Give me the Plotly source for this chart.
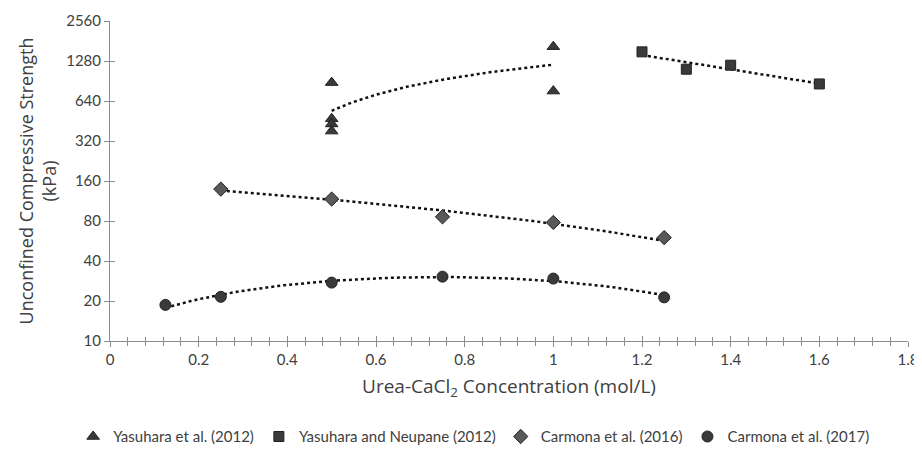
import numpy as np
import plotly.graph_objects as go

# data
yasuhara_x = [0.5, 0.5, 0.5, 0.5, 1.0, 1.0]
yasuhara_y = [880, 470, 430, 380, 1640, 760]
neupane_x = [1.2, 1.3, 1.4, 1.6]
neupane_y = [1500, 1110, 1190, 860]
carmona16_x = [0.25, 0.5, 0.75, 1.0, 1.25]
carmona16_y = [139, 117, 86, 78, 60]
carmona17_x = [0.125, 0.25, 0.5, 0.75, 1.0, 1.25]
carmona17_y = [18.7, 21.5, 27.5, 30.5, 29.5, 21.3]

y_ticks = [10, 20, 40, 80, 160, 320, 640, 1280, 2560]

TEXT = "#404040"
AXIS = "#8c8c8c"
FONT = "Lato"
TITLE_FONT = "Open Sans"


def trend(x, y, kind):
    # excel-style trendlines fitted to the series
    x = np.asarray(x, float)
    y = np.asarray(y, float)
    xs = np.linspace(x.min(), x.max(), 60)
    if kind == "log":
        b, a = np.polyfit(np.log(x), y, 1)
        return xs, a + b * np.log(xs)
    if kind == "exp":
        b, a = np.polyfit(x, np.log(y), 1)
        return xs, np.exp(a + b * xs)
    if kind == "poly2":
        return xs, np.polyval(np.polyfit(x, y, 2), xs)
    return xs, np.polyval(np.polyfit(x, y, 1), xs)


series = [
    ("Yasuhara et al. (2012)", yasuhara_x, yasuhara_y, "triangle-up", 11, "#3a3a3a", "log"),
    ("Yasuhara and Neupane (2012)", neupane_x, neupane_y, "square", 10, "#3a3a3a", "exp"),
    ("Carmona et al. (2016)", carmona16_x, carmona16_y, "diamond", 11, "#595959", "lin"),
    ("Carmona et al. (2017)", carmona17_x, carmona17_y, "circle", 11, "#3a3a3a", "poly2"),
]

fig = go.Figure()

for name, x, y, sym, size, col, kind in series:
    tx, ty = trend(x, y, kind)
    fig.add_trace(go.Scatter(
        x=tx, y=ty, mode="lines", showlegend=False, hoverinfo="skip",
        line=dict(color="#111111", width=2.5, dash="dot"),
    ))

for name, x, y, sym, size, col, kind in series:
    fig.add_trace(go.Scatter(
        x=x, y=y, mode="markers", name=name,
        marker=dict(symbol=sym, size=size, color=col,
                    line=dict(color="#222222", width=1)),
    ))

# empty traces so the overlay axes (inner half of the crossing ticks) get drawn
fig.add_trace(go.Scatter(x=[None], y=[None], xaxis="x2", yaxis="y", showlegend=False))
fig.add_trace(go.Scatter(x=[None], y=[None], xaxis="x", yaxis="y2", showlegend=False))

tick_font = dict(family=FONT, size=15, color=TEXT)

# page body keeps its 8px margin, so the figure is sized to what stays visible
fig.update_layout(
    width=914,
    height=442,
    margin=dict(l=102, r=14, t=13, b=109, autoexpand=False),
    paper_bgcolor="white",
    plot_bgcolor="white",
    font=dict(family=FONT, color=TEXT),
    xaxis=dict(
        range=[0, 1.8], dtick=0.2, tick0=0, automargin=False,
        showgrid=False, zeroline=False,
        showline=True, linecolor=AXIS, linewidth=1,
        ticks="outside", ticklen=5, tickcolor=AXIS, tickwidth=1,
        minor=dict(dtick=0.04, ticks="outside", ticklen=4, tickcolor=AXIS),
        tickfont=tick_font,
        title=dict(text="Urea-CaCl<sub>2</sub> Concentration (mol/L)",
                   font=dict(family=TITLE_FONT, size=19, color=TEXT), standoff=12),
    ),
    xaxis2=dict(
        overlaying="x", anchor="y", range=[0, 1.8], dtick=0.2, tick0=0,
        showgrid=False, zeroline=False, showline=False, showticklabels=False,
        ticks="inside", ticklen=5, tickcolor=AXIS, tickwidth=1,
        minor=dict(dtick=0.04, ticks="inside", ticklen=4, tickcolor=AXIS),
    ),
    yaxis=dict(
        type="log", range=[1, np.log10(2560)], automargin=False,
        tickvals=y_ticks, ticktext=[str(v) for v in y_ticks],
        showgrid=False, zeroline=False,
        showline=True, linecolor=AXIS, linewidth=1,
        ticks="outside", ticklen=5, tickcolor=AXIS, tickwidth=1,
        tickfont=tick_font,
        title=dict(text="Unconfined Compressive Strength<br>(kPa)",
                   font=dict(family=TITLE_FONT, size=18, color=TEXT), standoff=4),
    ),
    yaxis2=dict(
        overlaying="y", anchor="x", type="log", range=[1, np.log10(2560)],
        tickvals=y_ticks, showticklabels=False,
        showgrid=False, zeroline=False, showline=False,
        ticks="inside", ticklen=5, tickcolor=AXIS, tickwidth=1,
    ),
    legend=dict(
        orientation="h", xref="container", x=0.51, xanchor="center",
        yref="container", y=0.03, yanchor="middle",
        font=dict(family=FONT, size=15, color=TEXT),
        itemwidth=30, tracegroupgap=0,
    ),
)

fig.write_html("out.html")
